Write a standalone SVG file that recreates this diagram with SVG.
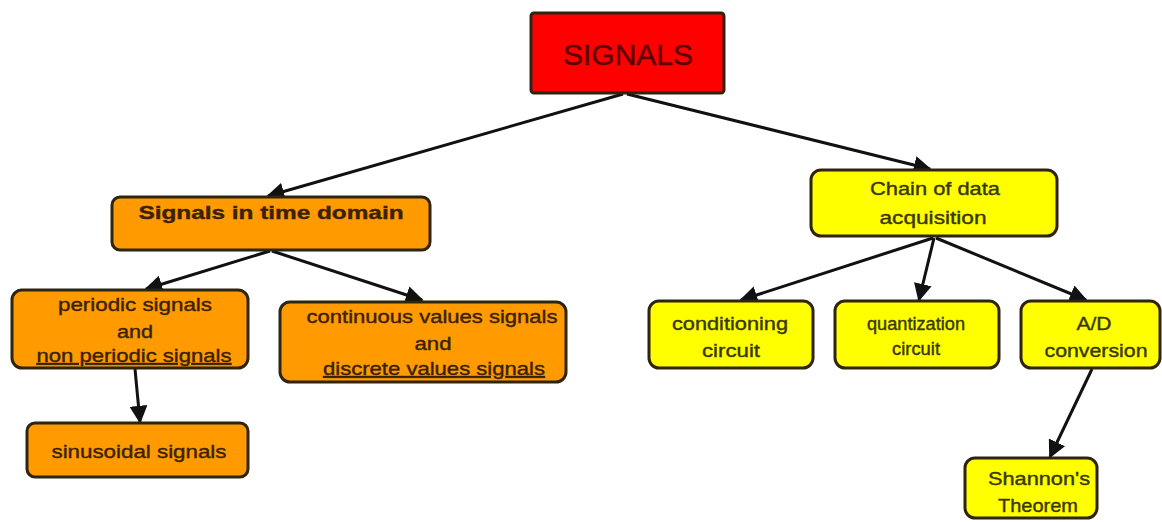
<svg xmlns="http://www.w3.org/2000/svg" width="1162" height="522" viewBox="0 0 1162 522">
<style>
.box{stroke:#2e2410;stroke-width:3}
.red{fill:#ff0000}
.org{fill:#ff9a00}
.yel{fill:#ffff00}
text{font-family:"Liberation Sans",Arial,sans-serif;text-anchor:middle;stroke-width:0.4}
.to{fill:#3a2200;stroke:#3a2200;font-size:19px}
.ty{fill:#383800;stroke:#383800;font-size:19px}
.c{stroke:#111;stroke-width:3;fill:none;marker-end:url(#ah)}
</style>
<defs>
<marker id="ah" viewBox="0 0 10 10" refX="9" refY="5" markerWidth="6" markerHeight="6" orient="auto" markerUnits="strokeWidth">
<path d="M0,0 L10,5 L0,10 z" fill="#111"/>
</marker>
</defs>
<rect width="1162" height="522" fill="#fff"/>
<g id="connectors">
<line class="c" x1="623" y1="94" x2="268" y2="196"/>
<line class="c" x1="627" y1="94" x2="930" y2="169"/>
<line class="c" x1="270" y1="251" x2="146" y2="289"/>
<line class="c" x1="272" y1="251" x2="422" y2="300"/>
<line class="c" x1="135" y1="369" x2="140" y2="422"/>
<line class="c" x1="933" y1="238" x2="741" y2="300"/>
<line class="c" x1="934" y1="238" x2="919" y2="300"/>
<line class="c" x1="936" y1="238" x2="1086" y2="300"/>
<line class="c" x1="1092" y1="369" x2="1050" y2="457"/>
</g>
<g id="signals">
<rect class="box red" x="531" y="13" width="193" height="80" rx="3"/>
<text x="628" y="65" font-size="29" fill="#5a0000" stroke="#5a0000" textLength="130" lengthAdjust="spacingAndGlyphs">SIGNALS</text>
</g>
<g id="time-domain">
<rect class="box org" x="112" y="197" width="318" height="53" rx="8"/>
<text class="to" x="271" y="219" font-size="22" font-weight="bold" textLength="265" lengthAdjust="spacingAndGlyphs">Signals in time domain</text>
</g>
<g id="periodic">
<rect class="box org" x="12" y="290" width="236" height="78" rx="10"/>
<text class="to" x="135" y="311" textLength="154" lengthAdjust="spacingAndGlyphs">periodic signals</text>
<text class="to" x="135" y="338" textLength="36" lengthAdjust="spacingAndGlyphs">and</text>
<text class="to" x="134" y="362" text-decoration="underline" textLength="195" lengthAdjust="spacingAndGlyphs">non periodic signals</text>
</g>
<g id="continuous">
<rect class="box org" x="280" y="302" width="286" height="80" rx="10"/>
<text class="to" x="432" y="323" textLength="251" lengthAdjust="spacingAndGlyphs">continuous values signals</text>
<text class="to" x="433" y="350" textLength="37" lengthAdjust="spacingAndGlyphs">and</text>
<text class="to" x="434" y="375" text-decoration="underline" textLength="222" lengthAdjust="spacingAndGlyphs">discrete values signals</text>
</g>
<g id="sinusoidal">
<rect class="box org" x="27" y="423" width="221" height="54" rx="8"/>
<text class="to" x="139" y="458" textLength="175" lengthAdjust="spacingAndGlyphs">sinusoidal signals</text>
</g>
<g id="chain">
<rect class="box yel" x="811" y="170" width="246" height="66" rx="10"/>
<text class="ty" x="935" y="195" textLength="130" lengthAdjust="spacingAndGlyphs">Chain of data</text>
<text class="ty" x="933" y="224" textLength="107" lengthAdjust="spacingAndGlyphs">acquisition</text>
</g>
<g id="conditioning">
<rect class="box yel" x="649" y="301" width="164" height="67" rx="10"/>
<text class="ty" x="730" y="330" font-size="20" textLength="116" lengthAdjust="spacingAndGlyphs">conditioning</text>
<text class="ty" x="731" y="357" font-size="20" textLength="58" lengthAdjust="spacingAndGlyphs">circuit</text>
</g>
<g id="quantization">
<rect class="box yel" x="835" y="301" width="164" height="67" rx="10"/>
<text class="ty" x="916" y="330" font-size="14" textLength="98" lengthAdjust="spacingAndGlyphs">quantization</text>
<text class="ty" x="916" y="355" font-size="14" textLength="48" lengthAdjust="spacingAndGlyphs">circuit</text>
</g>
<g id="ad">
<rect class="box yel" x="1021" y="301" width="139" height="67" rx="10"/>
<text class="ty" x="1094" y="330" font-size="20" textLength="35" lengthAdjust="spacingAndGlyphs">A/D</text>
<text class="ty" x="1096" y="357" font-size="20" textLength="103" lengthAdjust="spacingAndGlyphs">conversion</text>
</g>
<g id="shannon">
<rect class="box yel" x="965" y="458" width="132" height="60" rx="10"/>
<text class="ty" x="1039" y="485" font-size="20" textLength="102" lengthAdjust="spacingAndGlyphs">Shannon's</text>
<text class="ty" x="1038" y="512" font-size="20" textLength="80" lengthAdjust="spacingAndGlyphs">Theorem</text>
</g>
</svg>
